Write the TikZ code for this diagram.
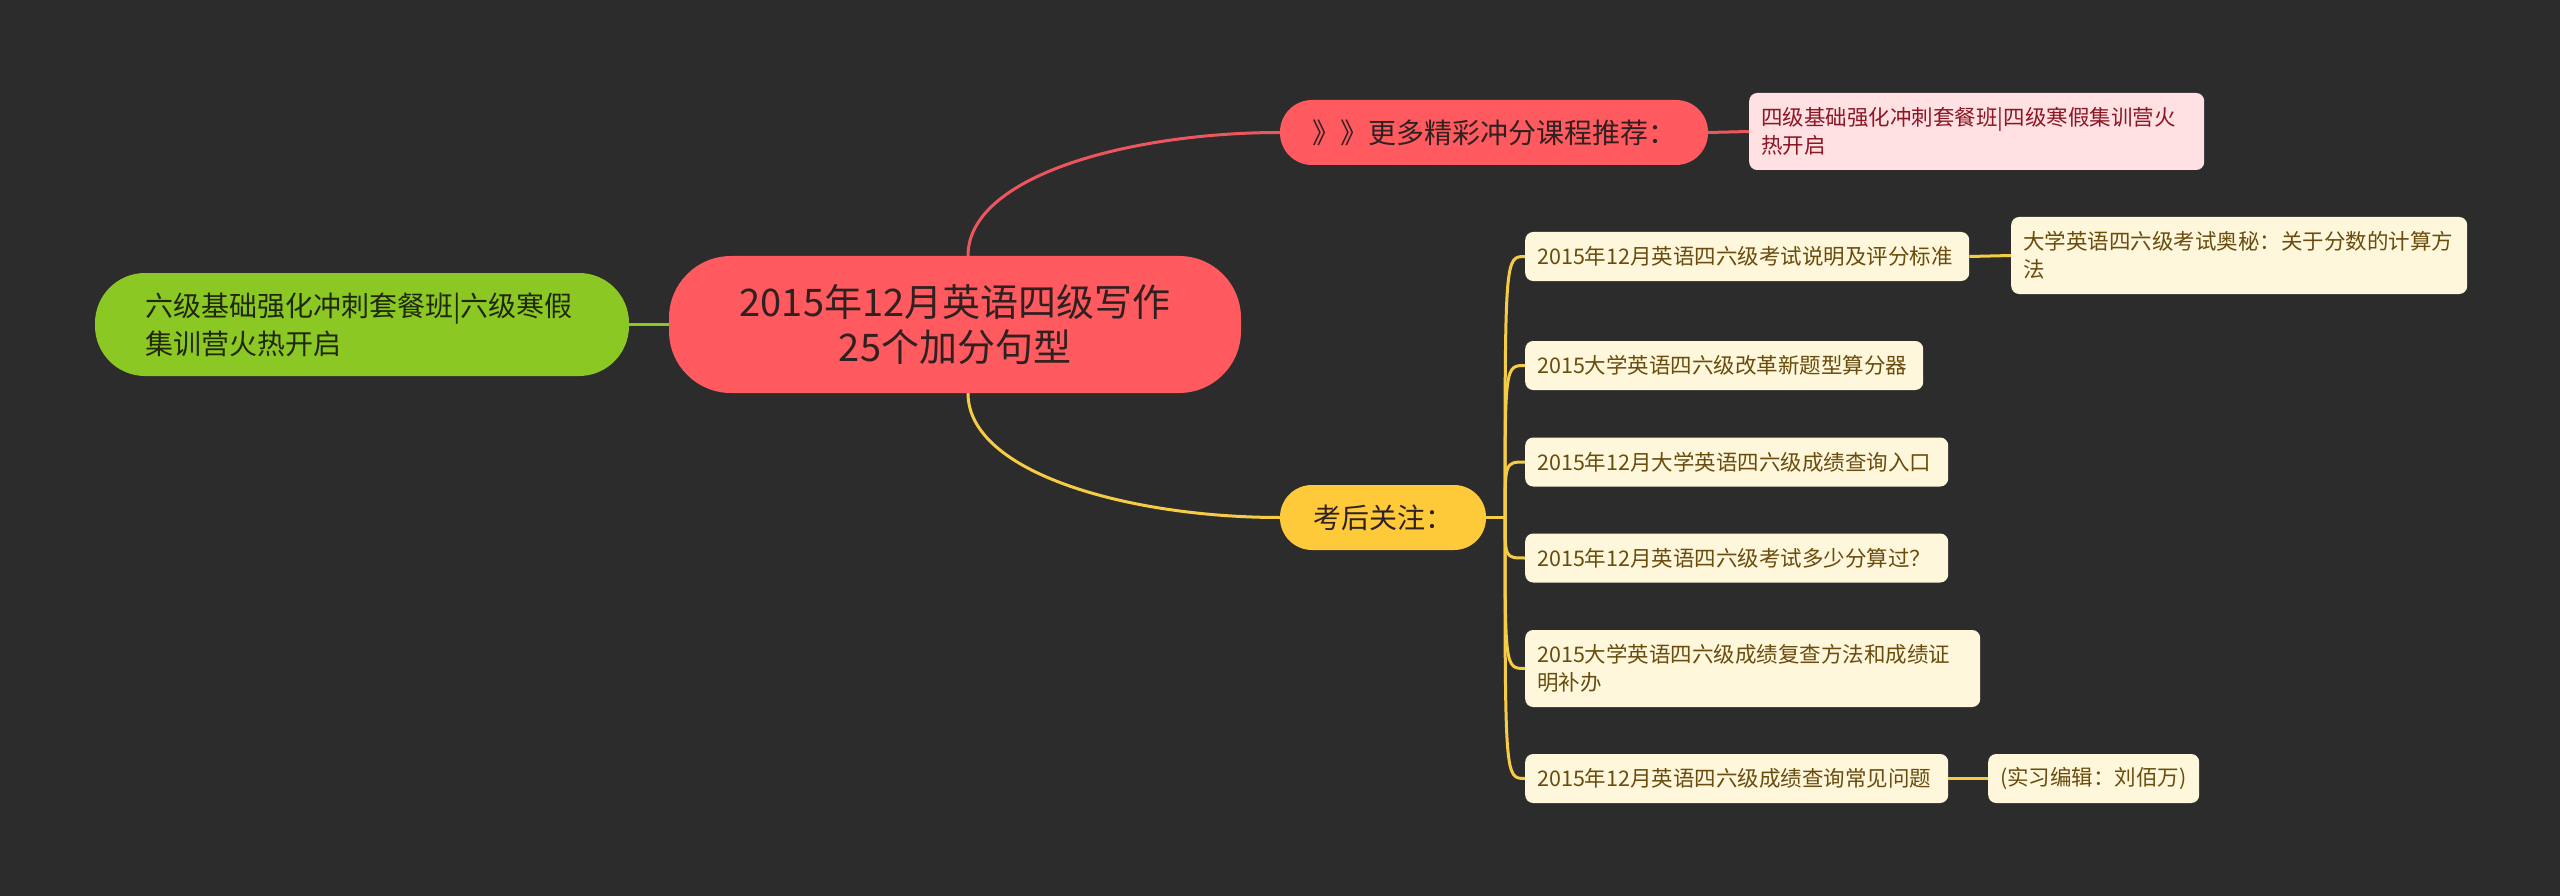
\documentclass[tikz,border=0pt]{standalone}
\usepackage{fontspec}
\setmainfont{Noto Sans CJK SC}
\usepackage{tikz}
\definecolor{bgdark}{RGB}{44,44,44}
\definecolor{rootred}{RGB}{255,90,95}
\definecolor{redline}{RGB}{236,86,92}
\definecolor{leafgreen}{RGB}{140,200,36}
\definecolor{greentext}{RGB}{32,40,12}
\definecolor{mainyellow}{RGB}{255,202,58}
\definecolor{lineyellow}{RGB}{246,204,68}
\definecolor{pinkfill}{RGB}{255,225,228}
\definecolor{pinktext}{RGB}{140,22,34}
\definecolor{creamfill}{RGB}{255,247,219}
\definecolor{creamtext}{RGB}{105,76,14}
\definecolor{darktext}{RGB}{48,32,32}

\begin{document}
\begin{tikzpicture}[x=1pt,y=-1pt,
  rootbox/.style={fill=rootred,text=darktext,rounded corners=62pt,minimum width=572pt,minimum height=137pt,inner sep=0pt,align=center,font=\fontsize{38}{45}\selectfont},
  sidebox/.style={fill=leafgreen,text=greentext,rounded corners=50pt,text width=434pt,inner xsep=50pt,inner ysep=0pt,minimum height=103pt,align=left,font=\fontsize{28}{38}\selectfont},
  branchbox/.style={text=darktext,rounded corners=32pt,minimum height=65pt,inner sep=0pt,font=\fontsize{28}{34}\selectfont},
  leaf/.style={fill=creamfill,text=creamtext,rounded corners=8pt,anchor=west,align=left,inner xsep=12pt,inner ysep=0pt,minimum height=49pt,font=\fontsize{21.5}{28}\selectfont},
  pinkleaf/.style={leaf,fill=pinkfill,text=pinktext,minimum height=77pt},
  redlink/.style={draw=redline,line width=3pt},
  yellink/.style={draw=lineyellow,line width=3pt},
  greenlink/.style={draw=leafgreen,line width=3pt}]
\fill[bgdark] (0,0) rectangle (2560,896);
\node[rootbox] (root) at (955,324.5) {2015年12月英语四级写作\\25个加分句型};
\node[sidebox] (side) at (362,324.5) {六级基础强化冲刺套餐班|六级寒假\\集训营火热开启};
\node[branchbox,fill=rootred,minimum width=428pt] (more) at (1494,132.5) {》》更多精彩冲分课程推荐：};
\node[pinkleaf,text width=431pt] (camp) at (1749,131.5) {四级基础强化冲刺套餐班|四级寒假集训营火\\热开启};
\node[branchbox,fill=mainyellow,minimum width=206pt] (after) at (1383,517.5) {考后关注：};
\node[leaf,text width=420pt] (exam) at (1525,256.5) {2015年12月英语四六级考试说明及评分标准};
\node[leaf,text width=432pt,minimum height=77pt] (secret) at (2011,255.5) {大学英语四六级考试奥秘：关于分数的计算方\\法};
\node[leaf,text width=374pt] (calc) at (1525,365.5) {2015大学英语四六级改革新题型算分器};
\node[leaf,text width=399pt] (query) at (1525,462) {2015年12月大学英语四六级成绩查询入口};
\node[leaf,text width=399pt] (pass) at (1525,558) {2015年12月英语四六级考试多少分算过？};
\node[leaf,text width=431pt,minimum height=77pt] (recheck) at (1525,668.5) {2015大学英语四六级成绩复查方法和成绩证\\明补办};
\node[leaf,text width=399pt] (faq) at (1525,778.5) {2015年12月英语四六级成绩查询常见问题};
\node[leaf,text width=187pt] (editor) at (1988,778.5) {(实习编辑：刘佰万)};
\coordinate (fork) at (1505,517.5);
\draw[greenlink] (side) -- (root);
\draw[redlink] ([xshift=13pt]root.north) .. controls +(0,-80) and +(-150,0) .. (more.west);
\draw[redlink] (more.east) -- (camp.west);
\draw[yellink] ([xshift=13pt]root.south) .. controls +(0,80) and +(-150,0) .. (after.west);
\draw[yellink] (after.east) -- (fork);
\foreach \t in {exam,calc,query,pass,recheck,faq}
  \draw[yellink] (fork) .. controls (fork |- \t.west) .. (\t.west);
\draw[yellink] (exam.east) -- (secret.west);
\draw[yellink] (faq.east) -- (editor.west);
\end{tikzpicture}
\end{document}
